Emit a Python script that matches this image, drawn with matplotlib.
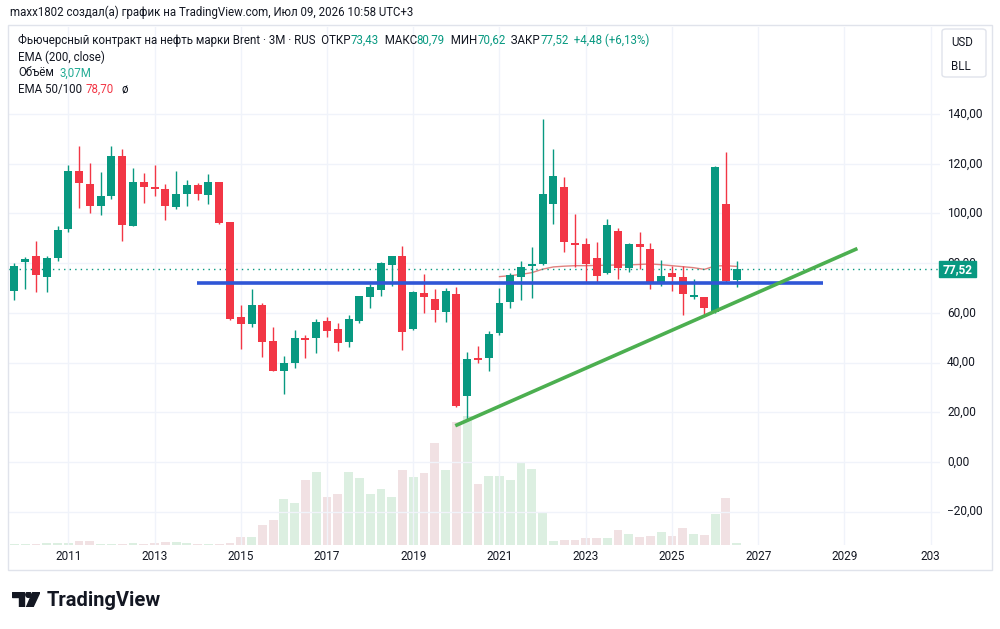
import matplotlib.pyplot as plt
from matplotlib.patches import Rectangle, Polygon, Circle, FancyBboxPatch

# Brent futures, quarterly candles from Q4 2009 to Q3 2026
opens = [68.8, 80.6, 82.9, 74.6, 82.0, 93.6, 117.0, 112.0, 103.2, 107.2,
         123.1, 95.1, 112.7, 110.8, 110.0, 102.8, 107.8, 111.5, 107.4, 112.8,
         96.4, 58.2, 55.7, 63.2, 48.8, 36.6, 39.7, 49.9, 49.9, 56.6,
         53.5, 48.4, 56.9, 66.5, 69.2, 79.4, 82.9, 53.4, 67.9, 65.5,
         60.2, 67.5, 26.7, 41.9, 41.7, 51.8, 64.3, 74.6, 79.0, 79.7,
         104.0, 110.7, 88.3, 87.6, 82.1, 76.2, 93.0, 78.2, 87.6, 85.6,
         72.6, 75.9, 74.3, 66.5, 66.5, 60.5, 103.8, 73.43]
highs = [80.0, 82.6, 89.1, 82.9, 95.0, 119.4, 127.2, 120.2, 116.6, 127.2,
         125.8, 118.2, 116.4, 119.4, 111.7, 117.1, 113.5, 112.4, 115.9, 112.8,
         96.7, 63.2, 69.8, 63.9, 54.5, 42.7, 53.1, 51.1, 57.4, 58.5,
         56.0, 59.3, 66.7, 71.5, 80.6, 82.9, 86.9, 68.8, 75.7, 69.8,
         70.0, 70.6, 44.1, 46.8, 52.7, 70.2, 75.9, 80.9, 86.7, 138.0,
         125.8, 114.7, 99.9, 90.1, 88.5, 97.8, 94.0, 88.0, 92.6, 88.3,
         81.3, 79.0, 79.0, 73.5, 66.5, 119.2, 124.9, 80.79]
lows = [65.2, 69.8, 68.3, 68.3, 81.0, 92.7, 102.3, 100.3, 99.4, 106.0,
        88.8, 95.0, 104.4, 107.0, 97.4, 101.9, 103.0, 105.4, 103.8, 95.8,
        57.1, 45.5, 54.5, 42.4, 36.6, 27.2, 37.7, 42.0, 44.0, 50.2,
        44.8, 46.4, 55.8, 62.1, 66.8, 70.8, 45.1, 53.1, 59.8, 56.3,
        56.2, 22.3, 16.9, 39.7, 36.8, 51.1, 61.8, 65.2, 65.9, 79.3,
        95.9, 84.6, 78.6, 72.2, 72.2, 75.5, 73.5, 76.3, 77.5, 69.6,
        70.8, 68.8, 59.2, 65.5, 59.2, 60.0, 72.0, 70.62]
closes = [79.0, 81.7, 75.4, 82.1, 93.4, 117.0, 112.1, 102.9, 106.9, 123.1,
          95.5, 112.7, 110.7, 109.9, 102.9, 107.7, 111.5, 107.8, 112.7, 96.3,
          57.5, 55.5, 63.0, 48.2, 36.6, 40.0, 50.0, 49.1, 56.3, 52.6,
          47.9, 57.4, 66.7, 70.4, 79.9, 82.9, 52.2, 68.5, 66.5, 61.2,
          69.0, 22.7, 41.3, 41.0, 51.5, 64.0, 75.3, 78.6, 79.5, 107.7,
          115.0, 88.4, 87.5, 79.7, 75.0, 95.4, 78.2, 87.6, 86.7, 71.9,
          74.8, 74.6, 67.7, 67.3, 61.8, 118.8, 73.0, 77.52]
# volume, millions
volumes = [2.0, 2.0, 2.0, 3.5, 3.5, 2.5, 6.0, 6.0, 2.0, 2.0,
           2.0, 3.5, 1.0, 3.0, 5.0, 5.0, 3.0, 1.0, 1.0, 2.0,
           3.5, 12.0, 12.0, 30.0, 37.5, 69.0, 63.0, 97.5, 109.5, 72.0,
           76.5, 109.5, 100.5, 76.5, 84.0, 72.0, 112.5, 102.0, 108.0, 153.0,
           112.5, 184.5, 193.5, 91.5, 103.5, 104.0, 97.5, 123.0, 114.0, 49.5,
           6.0, 7.5, 7.5, 10.5, 11.0, 10.5, 22.5, 16.5, 12.0, 13.0,
           19.0, 13.0, 25.0, 16.5, 15.0, 46.5, 70.5, 3.07]
# EMA line, from bar 45 onward
ema_start = 45
ema_vals = [74.6, 75.0, 75.5, 76.2, 77.6, 78.5, 78.8, 79.0, 79.0, 79.1,
            79.2, 79.3, 79.3, 79.5, 79.7, 79.4, 79.0, 78.6, 78.2, 77.5,
            78.9, 79.0, 78.7]

years = [2011, 2013, 2015, 2017, 2019, 2021, 2023, 2025, 2027, 2029, 2031]
year_labels = ['2011', '2013', '2015', '2017', '2019', '2021', '2023', '2025',
               '2027', '2029', '203']
price_ticks = [-20, 0, 20, 40, 60, 80, 100, 120, 140]

# drawn levels
support_level = 71.9
support_from, support_to = 16.9, 75.0
trend_x = [40.9, 78.2]
trend_y = [14.6, 85.9]

GREEN = '#089981'
RED = '#f23645'
TXT = '#131722'

plt.rcParams['font.family'] = ['Roboto', 'DejaVu Sans']

W, H = 1000, 629
fig = plt.figure(figsize=(10, 6.29), dpi=100)
fig.patch.set_facecolor('white')


def fx(px):
    return px / W


def fy(py):
    return 1 - py / H


# chart frame
frame = Rectangle((fx(8), fy(570)), fx(992) - fx(8), fy(25) - fy(570),
                  transform=fig.transFigure, fill=False, ec='#e0e3eb', lw=1)
fig.add_artist(frame)

left, right, top, bot = 8, 940, 27, 545
rect = [fx(left), fy(bot), fx(right) - fx(left), fy(top) - fy(bot)]

vax = fig.add_axes(rect)
ax = fig.add_axes(rect, sharex=vax)
ax.patch.set_alpha(0)

n = len(opens)
xs = list(range(n))

# x mapping: bar i centred at 14.4 + 10.78*i px
xlim = ((left - 14.4) / 10.78, (right - 14.4) / 10.78)
vax.set_xlim(*xlim)
ax.set_ylim(-33.4, 175.05)
vax.set_ylim(0, (bot - top) * 1.5)

# volume
vcols = ['#dcefe1' if c >= o else '#f1e1e3' for o, c in zip(opens, closes)]
vax.bar(xs, volumes, width=0.82, color=vcols, zorder=1)

# grid
year_pos = [5 + 4 * (y - 2011) for y in years]
for p in year_pos:
    ax.axvline(p, color='#f0f3fa', lw=1, zorder=0)
for t in price_ticks:
    ax.axhline(t, color='#f0f3fa', lw=1, zorder=0)
vax.axis('off')
for s in ax.spines.values():
    s.set_visible(False)
ax.set_yticks([])
ax.set_xticks([])

# candles
for i in xs:
    o, h, l, c = opens[i], highs[i], lows[i], closes[i]
    col = GREEN if c >= o else RED
    ax.vlines(i, l, h, color=col, lw=1, zorder=3)
    body = max(abs(c - o), 0.5)
    ax.bar(i, body, bottom=min(o, c), width=0.74, color=col, zorder=4)

# ema
ax.plot(range(ema_start, ema_start + len(ema_vals)), ema_vals,
        color='#d9625f', lw=1, alpha=0.8, zorder=2)

# last price line
ax.axhline(closes[-1], color=GREEN, lw=1, ls=(0, (1, 3)), zorder=2)

# drawings
ax.plot([support_from, support_to], [support_level, support_level],
        color='#2f56d6', lw=2.6, zorder=5, solid_capstyle='butt')
ax.plot(trend_x, trend_y, color='#4caf50', lw=2.6, zorder=5,
        solid_capstyle='butt')

# x labels
for p, lab in zip(year_pos, year_labels):
    xp = 14.4 + 10.78 * p
    fig.text(fx(xp), fy(557), lab, ha='center', va='center', fontsize=8.5,
             color=TXT)

# price labels (80,00 sits partly under the last-price tag, as on the chart)
for t in price_ticks:
    yp = 462 - 2.485 * t
    fig.text(fx(947), fy(yp), f'{t},00'.replace('-', '\u2212'), ha='left',
             va='center', fontsize=8.6, color=TXT)

# last price tag
tag_y = 462 - 2.485 * closes[-1]
fig.add_artist(Rectangle((fx(939), fy(tag_y + 8)), fx(37), fy(0) - fy(16),
                         transform=fig.transFigure, color=GREEN, zorder=10))
fig.text(fx(957.5), fy(tag_y), f'{closes[-1]:.2f}'.replace('.', ','),
         ha='center', va='center', fontsize=8.6, color='white',
         fontweight='bold', zorder=11)

# currency box
fig.add_artist(FancyBboxPatch((fx(942), fy(77)), fx(44), fy(29) - fy(77),
                              boxstyle='round,pad=0,rounding_size=0.004',
                              transform=fig.transFigure, fc='white',
                              ec='#e0e3eb', lw=1))
fig.text(fx(951), fy(42), 'USD', ha='left', va='center', fontsize=8.3,
         color=TXT)
fig.text(fx(951), fy(67), 'BLL', ha='left', va='center', fontsize=8.3,
         color=TXT)

# header
fig.text(fx(10), fy(12), 'maxx1802 создал(а) график на TradingView.com, '
         'Июл 09, 2026 10:58 UTC+3', ha='left', va='center', fontsize=8.3,
         color=TXT)

# legend lines
parts = [('Фьючерсный контракт на нефть марки Brent · 3M · RUS  ОТКР', TXT),
         ('73,43', GREEN), ('  МАКС', TXT), ('80,79', GREEN),
         ('  МИН', TXT), ('70,62', GREEN), ('  ЗАКР', TXT), ('77,52', GREEN),
         ('  +4,48 (+6,13%)', GREEN)]
renderer = fig.canvas.get_renderer()
xcur = 18
for s, col in parts:
    t = fig.text(fx(xcur), fy(40), s, ha='left', va='center', fontsize=8.3,
                 color=col)
    bb = t.get_window_extent(renderer=renderer)
    xcur += bb.width
fig.text(fx(18), fy(57), 'EMA (200, close)', ha='left', va='center',
         fontsize=8.3, color=TXT)
fig.text(fx(18), fy(73), 'Объём', ha='left', va='center', fontsize=8.3,
         color=TXT)
fig.text(fx(60), fy(73), '3,07M', ha='left', va='center', fontsize=8.3,
         color='#22ab94')
fig.text(fx(18), fy(89), 'EMA 50/100', ha='left', va='center', fontsize=8.3,
         color=TXT)
fig.text(fx(86), fy(89), '78,70', ha='left', va='center', fontsize=8.3,
         color=RED)
fig.text(fx(121), fy(89), 'ø', ha='left', va='center', fontsize=8.3,
         color=TXT)

# TradingView logo
lax = fig.add_axes([fx(12), fy(607), fx(28), fy(592) - fy(607)])
lax.set_xlim(0, 28)
lax.set_ylim(0, 15)
lax.axis('off')
lax.add_patch(Polygon([(0, 15), (12, 15), (12, 0), (7, 0), (7, 10), (0, 10)],
                      color='#131722'))
lax.add_patch(Circle((16.5, 12.3), 2.7, color='#131722'))
lax.add_patch(Polygon([(21, 15), (28, 15), (21, 0), (14.5, 0)],
                      color='#131722'))
fig.text(fx(47), fy(600), 'TradingView', ha='left', va='center',
         fontsize=14.5, fontweight='bold', color='#131722')

fig.savefig('out.png', dpi=100, facecolor='white')
